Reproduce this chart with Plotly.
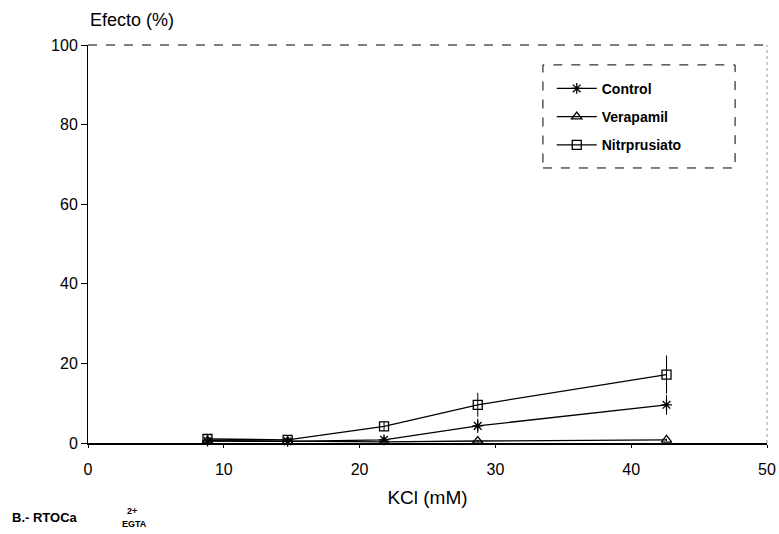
import plotly.graph_objects as go

kcl = [8.8, 14.7, 21.8, 28.7, 42.6]
control = [0.5, 0.4, 0.8, 4.3, 9.6]
control_err = [0.3, 0.3, 0.5, 1.8, 2.5]
verapamil = [0.6, 0.4, 0.3, 0.5, 0.8]
verapamil_err = [0.2, 0.2, 0.2, 0.3, 0.3]
nitro = [1.0, 0.8, 4.2, 9.6, 17.2]
nitro_err = [0.3, 0.3, 1.2, 3.0, 4.8]

series = [
    ("Control", control, control_err, "asterisk-open"),
    ("Verapamil", verapamil, verapamil_err, "triangle-up-open"),
    ("Nitrprusiato", nitro, nitro_err, "square-open"),
]

fig = go.Figure()
for name, vals, errs, sym in series:
    fig.add_trace(go.Scatter(
        x=kcl, y=vals, name=name, legendgroup=name, mode="lines+markers",
        line=dict(color="black", width=1.3),
        marker=dict(symbol=sym, size=9, color="black", line=dict(color="black", width=1.3)),
        error_y=dict(type="data", array=errs, color="black", thickness=1, width=0),
        cliponaxis=False,
    ))

font = "Liberation Sans, Arial, sans-serif"
fig.update_layout(
    width=779, height=534,
    margin=dict(l=88, r=12, t=45, b=91, autoexpand=False),
    paper_bgcolor="white", plot_bgcolor="white",
    font=dict(family=font, color="black"),
    showlegend=True,
    legend=dict(
        x=0.683, y=0.93, xanchor="left", yanchor="top",
        bgcolor="rgba(0,0,0,0)", borderwidth=0,
        font=dict(size=14, family=font, color="black", weight="bold"),
        itemwidth=40, tracegroupgap=7,
    ),
    xaxis=dict(
        range=[0, 50], tickvals=[0, 10, 20, 30, 40, 50],
        showgrid=False, zeroline=False,
        showline=True, linecolor="black", linewidth=1.5,
        ticks="outside", ticklen=3, tickcolor="black",
        ticklabelstandoff=8,
        tickfont=dict(size=16, family=font),
        title=dict(text="KCl (mM)", font=dict(size=19, family=font), standoff=14),
    ),
    yaxis=dict(
        range=[0, 100], tickvals=[0, 20, 40, 60, 80, 100],
        showgrid=False, zeroline=False,
        showline=True, linecolor="black", linewidth=1,
        ticks="outside", ticklen=6, tickcolor="black",
        tickfont=dict(size=16, family=font),
    ),
    annotations=[
        dict(text="Efecto (%)", x=0, y=1.0, xref="paper", yref="paper",
             xanchor="left", yanchor="bottom", yshift=13, showarrow=False,
             font=dict(size=18, family=font)),
        dict(text="<b>B.- RTOCa</b>", x=-0.115, y=-0.188,
             xref="paper", yref="paper", xanchor="left", yanchor="middle",
             showarrow=False, font=dict(size=13, family=font)),
        dict(text="<b>2+</b>", x=0.065, y=-0.171,
             xref="paper", yref="paper", xanchor="center", yanchor="middle",
             showarrow=False, font=dict(size=9, family=font)),
        dict(text="<b>EGTA</b>", x=0.069, y=-0.203,
             xref="paper", yref="paper", xanchor="center", yanchor="middle",
             showarrow=False, font=dict(size=9, family=font)),
    ],
    shapes=[
        dict(type="line", xref="paper", yref="paper", x0=0, x1=1, y0=1, y1=1,
             line=dict(color="black", width=1.2, dash="dash")),
        dict(type="line", xref="paper", yref="paper", x0=1, x1=1, y0=0, y1=1,
             line=dict(color="gray", width=0.8, dash="dot")),
        dict(type="rect", xref="paper", yref="paper", x0=0.670, x1=0.953, y0=0.691, y1=0.950,
             line=dict(color="black", width=1, dash="dash")),
    ],
)

fig.write_html(
    "out.html",
    config={"displayModeBar": False},
    post_script="document.body.style.margin='0';document.body.style.overflow='hidden';",
)
